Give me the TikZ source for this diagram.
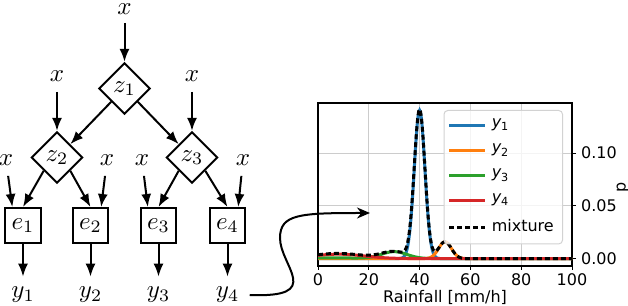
\documentclass[tikz,border=0pt]{standalone}
\usepackage{amsmath}
\usepackage{fontspec}
\usepackage{tikz}
\usetikzlibrary{arrows.meta,shapes.geometric}
\usepackage{pgfplots}
\pgfplotsset{compat=1.18}
\newfontfamily\plotfont{DejaVu Sans}
\newcommand{\plotsize}{\fontsize{6.4pt}{7.7pt}\selectfont}
\definecolor{mblue}{HTML}{1F77B4}
\definecolor{morange}{HTML}{FF7F0E}
\definecolor{mgreen}{HTML}{2CA02C}
\definecolor{mred}{HTML}{D62728}
\tikzset{
  gate/.style={diamond, draw, thick, minimum size=20.5pt, inner sep=0pt},
  expert/.style={rectangle, draw, thick, minimum size=14pt, inner sep=0pt},
  inp/.style={inner sep=4pt},
  flow/.style={-{Latex[length=5.2pt,width=4pt]}, thick},
  swing/.style={-{Stealth[length=5.2pt,width=4.4pt]}, thick},
  comp/.style={line width=1.2pt, no markers},
}

\begin{document}
\begin{tikzpicture}[x=0.4pt,y=0.4pt]
  \useasboundingbox (0,0) rectangle (628,306);
  % gating tree
  \node[inp, inner ysep=1pt] (in0) at (124.5,296.5) {$x$};
  \node[gate] (z1) at (124.5,217.5) {$z_1$};
  \node[inp] (in1) at (57,230) {$x$};
  \node[inp] (in2) at (192,230) {$x$};
  \node[gate] (z2) at (57,148.5) {$z_2$};
  \node[gate] (z3) at (192,148.5) {$z_3$};
  \node[inp] (in3) at (6,146) {$x$};
  \node[inp] (in4) at (107,146) {$x$};
  \node[inp] (in5) at (142,146) {$x$};
  \node[inp] (in6) at (243,146) {$x$};
  % experts
  \node[expert] (e1) at (23,80.5) {$e_1$};
  \node[expert] (e2) at (90.5,80.5) {$e_2$};
  \node[expert] (e3) at (158.5,80.5) {$e_3$};
  \node[expert] (e4) at (227.5,80.5) {$e_4$};
  \node[inp] (y1) at (23,11) {$y_1$};
  \node[inp] (y2) at (90.5,11) {$y_2$};
  \node[inp] (y3) at (158.5,11) {$y_3$};
  \node[inp] (y4) at (227.5,11) {$y_4$};

  \draw[flow, shorten <=2pt] (in0) -- (z1.north);
  \draw[flow] (in1) -- (z2.north);
  \draw[flow] (in2) -- (z3.north);
  \draw[flow] (z1.south west) -- (z2.north east);
  \draw[flow] (z1.south east) -- (z3.north west);
  \draw[flow] (z2.south west) -- (e1.north);
  \draw[flow] (z2.south east) -- (e2.north);
  \draw[flow] (z3.south west) -- (e3.north);
  \draw[flow] (z3.south east) -- (e4.north);
  \draw[flow] (in3) -- (e1.120);
  \draw[flow] (in4) -- (e2.60);
  \draw[flow] (in5) -- (e3.120);
  \draw[flow] (in6) -- (e4.60);
  \draw[flow] (e1) -- (y1);
  \draw[flow] (e2) -- (y2);
  \draw[flow] (e3) -- (y3);
  \draw[flow] (e4) -- (y4);

  % rainfall density
  \begin{axis}[
    at={(127.2pt,16pt)}, anchor=south west,
    scale only axis, width=101.6pt, height=65.2pt,
    xmin=0, xmax=100, ymin=-0.007, ymax=0.1475,
    xtick={0,20,40,60,80,100}, xticklabels={0,20,40,60,80,100},
    ytick={0,0.05,0.1}, yticklabels={0.00,0.05,0.10},
    xtick pos=lower, ytick pos=upper, yticklabel pos=upper,
    tick align=outside, major tick length=1.6pt,
    tick style={black, line width=0.4pt},
    grid=major, grid style={gray!40, line width=0.4pt},
    axis line style={line width=0.5pt},
    ticklabel style={font=\plotfont\plotsize},
    xticklabel style={yshift=2pt},
    yticklabel style={xshift=-1.5pt},
    xlabel={Rainfall [mm/h]}, ylabel={p},
    label style={font=\plotfont\plotsize},
    xlabel style={at={(axis description cs:0.5,-0.145)}, anchor=north, inner sep=0pt},
    ylabel style={at={(axis description cs:1.2,0.485)}, anchor=center, inner sep=0pt},
    legend cell align=left,
    legend image code/.code={\draw[#1] (0pt,0pt) -- (14.4pt,0pt);},
    legend style={at={(0.9646,0.957)}, anchor=north east,
      draw=gray!35, rounded corners=1.5pt, fill=white, fill opacity=0.8,
      text opacity=1, font=\plotfont\plotsize, inner sep=1.5pt, row sep=1pt},
    declare function={
      compa(\x)=0.1406*exp(-((\x-40)^2)/8.82);
      compb(\x)=0.016*exp(-((\x-50)^2)/12.5);
      compc(\x)=0.0065*exp(-((\x-30)^2)/50)+0.0007*exp(-((\x-5)^2)/288);
      compd(\x)=0.0042*exp(-((\x-8)^2)/200);
    },
    domain=0:100, samples=301,
  ]
    \addplot[comp, mblue] {compa(x)};
    \addlegendentry{{\itshape y}\textsubscript{1}}
    \addplot[comp, morange] {compb(x)};
    \addlegendentry{{\itshape y}\textsubscript{2}}
    \addplot[comp, mgreen] {compc(x)};
    \addlegendentry{{\itshape y}\textsubscript{3}}
    \addplot[comp, mred] {compd(x)};
    \addlegendentry{{\itshape y}\textsubscript{4}}
    \addplot[comp, black, dash pattern=on 2pt off 1.2pt] {compa(x)+compb(x)+compc(x)+compd(x)};
    \addlegendentry{mixture}
  \end{axis}

  \coordinate (bend) at (280,68);
  \coordinate (tgt) at (370,93);
  \draw[swing] (y4.east) .. controls (325,8) and (280,40) .. (bend)
    .. controls (280,92) and (300,93) .. (tgt);
\end{tikzpicture}
\end{document}
